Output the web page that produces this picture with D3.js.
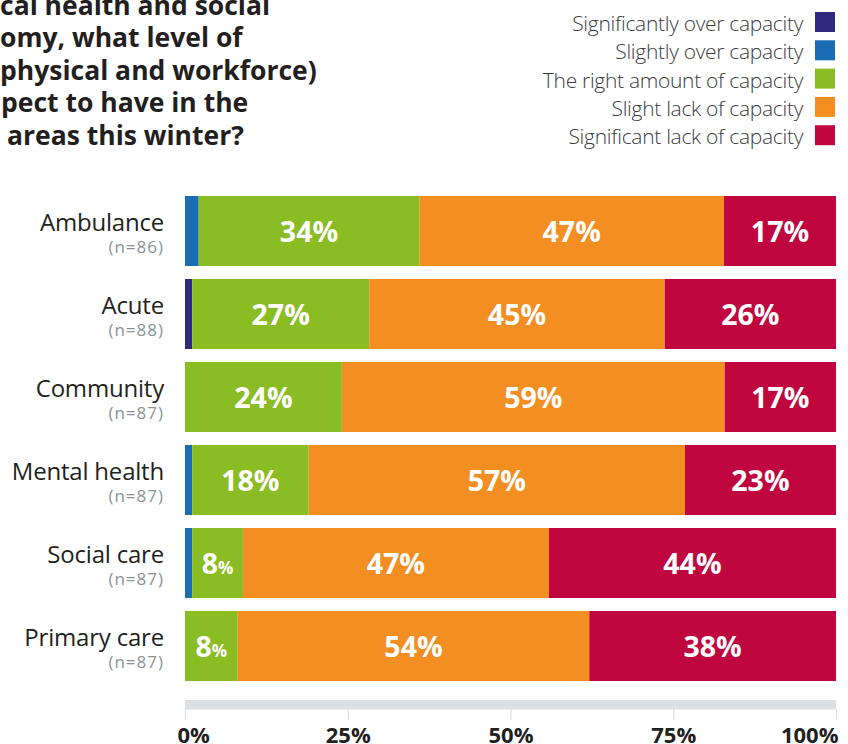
<!DOCTYPE html>
<html>
<head>
<meta charset="utf-8">
<script src="https://cdn.jsdelivr.net/npm/d3@7"></script>
<style>
  html, body { margin: 0; padding: 0; background: #fff; }
  svg { display: block; }
</style>
</head>
<body>
<script>
// ---- data ----
const categories = ["Ambulance", "Acute", "Community", "Mental health", "Social care", "Primary care"];
const sampleSizes = [86, 88, 87, 87, 87, 87];
const seriesNames = [
  "Significantly over capacity",
  "Slightly over capacity",
  "The right amount of capacity",
  "Slight lack of capacity",
  "Significant lack of capacity"
];
const seriesColors = ["#2e2a7f", "#1a6db3", "#8abd24", "#f28e22", "#c0063f"];
const significantlyOver = [0, 1.1, 0, 0, 0, 0];
const slightlyOver = [2.1, 0, 0, 1.1, 1.1, 0];
const rightAmount = [33.9, 27.2, 24.1, 17.9, 7.8, 8.1];
const slightLack = [46.8, 45.4, 58.8, 57.8, 47.0, 54.0];
const significantLack = [17.2, 26.3, 17.1, 23.2, 44.1, 37.9];
// printed labels
const rightAmountLabels = [34, 27, 24, 18, 8, 8];
const slightLackLabels = [47, 45, 59, 57, 47, 54];
const significantLackLabels = [17, 26, 17, 23, 44, 38];
const tickValues = [0, 25, 50, 75, 100];
const titleLines = [
  "cal health and social",
  "omy, what level of",
  "physical and workforce)",
  "pect to have in the",
  "areas this winter?"
];

// ---- build ----
const W = 848, H = 744;
const FONT = "'Open Sans', 'Noto Sans', sans-serif";
const svg = d3.select("body").append("svg").attr("width", W).attr("height", H)
  .style("font-family", FONT);

const seriesValues = [significantlyOver, slightlyOver, rightAmount, slightLack, significantLack];
const seriesLabels = [null, null, rightAmountLabels, slightLackLabels, significantLackLabels];

const rows = categories.map((c, i) => {
  const r = { category: c };
  seriesNames.forEach((s, k) => r[s] = seriesValues[k][i]);
  return r;
});
const stacked = d3.stack().keys(seriesNames)(rows);

const x = d3.scaleLinear().domain([0, 100]).range([185, 836]);
const y = d3.scaleBand().domain(categories).range([196, 681]).paddingInner(13 / 83).paddingOuter(0);

// title
const title = svg.append("g").attr("fill", "#231f20").style("font-weight", 700).style("font-size", "26.5px");
const titleX = [0, 0, 0, 1, 7];
const titleY = [15, 47, 80, 112, 145];
titleLines.forEach((t, i) => {
  title.append("text").attr("x", titleX[i]).attr("y", titleY[i]).text(t);
});

// legend
const legend = svg.append("g");
seriesNames.forEach((s, i) => {
  const top = 12 + i * 28.3;
  legend.append("rect").attr("x", 815).attr("y", top).attr("width", 20).attr("height", 20).attr("fill", seriesColors[i]);
  legend.append("text").attr("x", 803).attr("y", top + 19).attr("text-anchor", "end")
    .attr("fill", "#3c3c3c").style("font-size", "21px").style("font-weight", 300)
    .style("letter-spacing", "-0.3px").text(s);
});

// bars
const layers = svg.append("g").selectAll("g").data(stacked).join("g")
  .attr("fill", (d, i) => seriesColors[i]);
layers.selectAll("rect").data(d => d).join("rect")
  .attr("x", d => x(d[0]))
  .attr("width", d => x(d[1]) - x(d[0]))
  .attr("y", d => y(d.data.category))
  .attr("height", y.bandwidth());

// value labels
stacked.forEach((layer, k) => {
  const labs = seriesLabels[k];
  if (!labs) return;
  layer.forEach((d, i) => {
    const v = labs[i];
    const cx = (x(d[0]) + x(d[1])) / 2;
    const cy = y(d.data.category) + y.bandwidth() / 2 + 11;
    const t = svg.append("text").attr("x", cx).attr("y", cy).attr("text-anchor", "middle")
      .attr("fill", "#fff").style("font-weight", 700).style("font-size", "28.5px");
    if (v < 10) {
      t.append("tspan").text(v);
      t.append("tspan").style("font-size", "17px").text("%");
    } else {
      t.text(v + "%");
    }
  });
});

// category labels
const catG = svg.append("g");
categories.forEach((c, i) => {
  const top = y(c);
  catG.append("text").attr("x", 164).attr("y", top + 35).attr("text-anchor", "end")
    .attr("fill", "#231f20").style("font-size", "24px").style("letter-spacing", "-0.2px").text(c);
  catG.append("text").attr("x", 164).attr("y", top + 57).attr("text-anchor", "end")
    .attr("fill", "#8c9396").style("font-size", "17px").style("letter-spacing", "1px")
    .text("(n=" + sampleSizes[i] + ")");
});

// axis
svg.append("rect").attr("x", x(0)).attr("y", 700).attr("width", x(100) - x(0)).attr("height", 9.5).attr("fill", "#dce0e2");
const axis = svg.append("g").attr("transform", "translate(0,709)")
  .call(d3.axisBottom(x).tickValues(tickValues).tickSize(11).tickFormat(d => d + "%"));
axis.select(".domain").remove();
axis.selectAll(".tick line").attr("stroke", "#dce0e2").attr("stroke-width", 1.2);
axis.selectAll(".tick text")
  .attr("fill", "#231f20").attr("y", 0).attr("dy", "34px")
  .style("font-family", FONT).style("font-size", "22px").style("font-weight", 700)
  .attr("text-anchor", d => d === 0 ? "start" : d === 100 ? "end" : "middle")
  .attr("dx", d => d === 0 ? -8 : d === 100 ? 2 : 0);
</script>
</body>
</html>
